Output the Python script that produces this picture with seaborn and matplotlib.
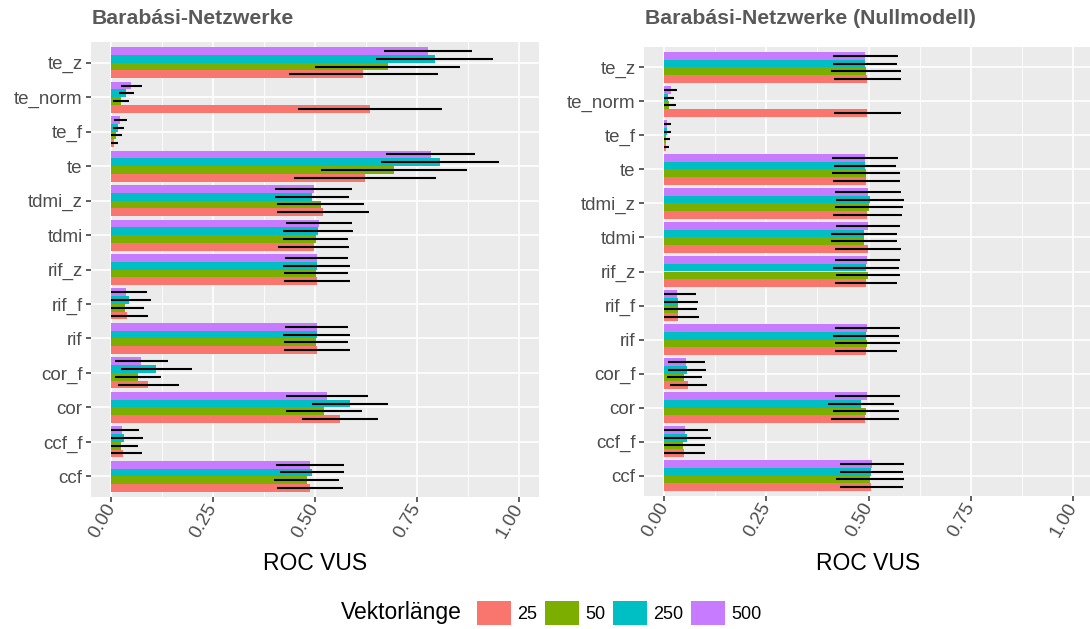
import numpy as np
import pandas as pd
import matplotlib
matplotlib.use("Agg")
import matplotlib.pyplot as plt
from matplotlib.patches import Patch
from matplotlib.ticker import MultipleLocator
import seaborn as sns

# Methods, listed top to bottom
methods = ["te_z", "te_norm", "te_f", "te", "tdmi_z", "tdmi", "rif_z",
           "rif_f", "rif", "cor_f", "cor", "ccf_f", "ccf"]
lengths = ["25", "50", "250", "500"]

# Barabási networks: mean ROC VUS and standard deviation per vector length
ba_mean_25 = [0.618, 0.635, 0.007, 0.623, 0.520, 0.497, 0.504, 0.039, 0.504, 0.091, 0.561, 0.029, 0.488]
ba_mean_50 = [0.679, 0.0245, 0.011, 0.694, 0.514, 0.502, 0.502, 0.034, 0.502, 0.066, 0.522, 0.0245, 0.480]
ba_mean_250 = [0.794, 0.037, 0.017, 0.806, 0.492, 0.507, 0.504, 0.044, 0.504, 0.110, 0.586, 0.032, 0.493]
ba_mean_500 = [0.777, 0.049, 0.022, 0.784, 0.497, 0.509, 0.504, 0.037, 0.504, 0.0735, 0.529, 0.027, 0.488]
ba_sd_25 = [0.183, 0.177, 0.009, 0.175, 0.113, 0.087, 0.081, 0.052, 0.081, 0.075, 0.094, 0.046, 0.081]
ba_sd_50 = [0.178, 0.020, 0.014, 0.180, 0.107, 0.080, 0.078, 0.045, 0.078, 0.057, 0.093, 0.040, 0.080]
ba_sd_250 = [0.143, 0.019, 0.013, 0.145, 0.091, 0.086, 0.082, 0.054, 0.082, 0.087, 0.094, 0.045, 0.078]
ba_sd_500 = [0.108, 0.025, 0.016, 0.109, 0.094, 0.081, 0.078, 0.050, 0.078, 0.065, 0.100, 0.042, 0.083]

# Barabási networks, null model
null_mean_25 = [0.497, 0.497, 0.005, 0.494, 0.497, 0.499, 0.494, 0.034, 0.494, 0.059, 0.492, 0.049, 0.507]
null_mean_50 = [0.494, 0.012, 0.005, 0.494, 0.502, 0.489, 0.499, 0.034, 0.497, 0.049, 0.494, 0.046, 0.504]
null_mean_250 = [0.492, 0.010, 0.007, 0.492, 0.504, 0.489, 0.494, 0.034, 0.494, 0.056, 0.482, 0.056, 0.507]
null_mean_500 = [0.492, 0.015, 0.007, 0.492, 0.499, 0.499, 0.497, 0.032, 0.497, 0.054, 0.497, 0.051, 0.509]
null_sd_25 = [0.082, 0.082, 0.006, 0.082, 0.085, 0.080, 0.076, 0.050, 0.076, 0.045, 0.083, 0.051, 0.077]
null_sd_50 = [0.085, 0.016, 0.008, 0.084, 0.083, 0.081, 0.079, 0.047, 0.079, 0.042, 0.080, 0.054, 0.083]
null_sd_250 = [0.078, 0.014, 0.008, 0.076, 0.084, 0.081, 0.080, 0.048, 0.080, 0.046, 0.080, 0.057, 0.078]
null_sd_500 = [0.080, 0.017, 0.008, 0.081, 0.080, 0.079, 0.079, 0.045, 0.079, 0.045, 0.080, 0.056, 0.079]

palette = {"25": "#F8766D", "50": "#7CAE00", "250": "#00BFC4", "500": "#C77CFF"}

TITLE_GREY = "#595959"
TICK_GREY = "#4D4D4D"
plt.rcParams["font.family"] = ["Liberation Sans", "DejaVu Sans"]


def long_table(means, sds):
    rows = []
    for L, m_list, s_list in zip(lengths, means, sds):
        for meth, m, s in zip(methods, m_list, s_list):
            rows.append({"method": meth, "Vektorlänge": L, "vus": m, "sd": s})
    return pd.DataFrame(rows)


ba_df = long_table([ba_mean_25, ba_mean_50, ba_mean_250, ba_mean_500],
                   [ba_sd_25, ba_sd_50, ba_sd_250, ba_sd_500])
null_df = long_table([null_mean_25, null_mean_50, null_mean_250, null_mean_500],
                     [null_sd_25, null_sd_50, null_sd_250, null_sd_500])

W, H = 1090, 629
fig = plt.figure(figsize=(W / 100, H / 100), dpi=100)


def px_axes(x0, y0, x1, y1):
    return fig.add_axes([x0 / W, 1 - y1 / H, (x1 - x0) / W, (y1 - y0) / H])


# within each group the shortest vector length sits at the bottom
hue_order = lengths[::-1]


def draw_panel(ax, df, title, title_x):
    ax.set_facecolor("#EBEBEB")
    sns.barplot(data=df, y="method", x="vus", hue="Vektorlänge", order=methods,
                hue_order=hue_order, palette=palette, width=0.9, errorbar=None,
                saturation=1, linewidth=0, legend=False, ax=ax, zorder=2)
    # error bars: mean ± sd, lower end clipped at zero
    for level, container in zip(hue_order, ax.containers):
        sub = df[df["Vektorlänge"] == level].set_index("method")
        for patch in container:
            yc = patch.get_y() + patch.get_height() / 2
            meth = methods[int(round(yc))]
            m, s = sub.loc[meth, "vus"], sub.loc[meth, "sd"]
            ax.hlines(yc, max(m - s, 0.0), m + s, color="black", lw=1.5, zorder=3)

    ax.set_xlim(-0.05, 1.05)
    ax.set_ylim(len(methods) - 1 + 0.6, -0.6)
    ax.xaxis.set_major_locator(MultipleLocator(0.25))
    ax.xaxis.set_minor_locator(MultipleLocator(0.125))
    ax.set_xticks([0, 0.25, 0.5, 0.75, 1.0])
    ax.set_xticklabels(["0.00", "0.25", "0.50", "0.75", "1.00"])
    ax.grid(which="major", color="white", lw=1.2, zorder=0)
    ax.grid(which="minor", axis="x", color="white", lw=0.6, zorder=0)
    ax.set_axisbelow(True)
    for sp in ax.spines.values():
        sp.set_visible(False)
    ax.tick_params(axis="both", which="major", length=3.5, width=1.1,
                   color="#333333", labelcolor=TICK_GREY, labelsize=13.5, pad=2.5)
    ax.tick_params(axis="x", which="minor", length=0)
    for lab in ax.get_xticklabels():
        lab.set_rotation(60)
        lab.set_ha("right")
        lab.set_va("center")
        lab.set_rotation_mode("anchor")
    ax.set_xlabel("")
    ax.set_ylabel("")
    pos = ax.get_position()
    fig.text(pos.x0 + pos.width / 2, 1 - 564 / H, "ROC VUS", ha="center",
             va="center", fontsize=16.5, color="black")
    fig.text(title_x / W, 1 - 18 / H, title, ha="left", va="center",
             fontsize=15.3, fontweight="bold", color=TITLE_GREY)


ax1 = px_axes(91, 42, 539, 497)
draw_panel(ax1, ba_df, "Barabási-Netzwerke", 92)
ax2 = px_axes(644, 47, 1093, 496)
draw_panel(ax2, null_df, "Barabási-Netzwerke (Nullmodell)", 645)

# legend along the bottom
fig.text(341 / W, 1 - 613 / H, "Vektorlänge", ha="left", va="center",
         fontsize=16.5, color="black")
handles = [Patch(facecolor=palette[L], edgecolor="none", label=L) for L in lengths]
fig.legend(handles=handles, loc="center left",
           bbox_to_anchor=(477 / W, 1 - 613 / H), ncol=4, frameon=False,
           fontsize=13, handlelength=1.9, handleheight=1.75,
           handletextpad=0.35, columnspacing=0.4, borderpad=0, borderaxespad=0)

fig.savefig("out.png", dpi=100)
